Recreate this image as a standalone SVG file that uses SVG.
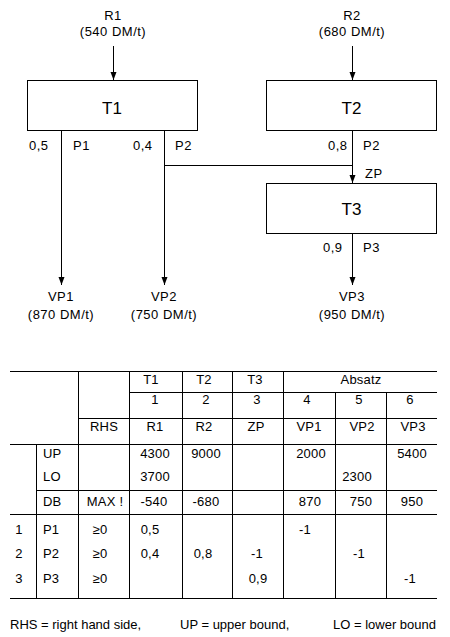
<svg xmlns="http://www.w3.org/2000/svg" width="450" height="637" viewBox="0 0 450 637">
<style>
text{font-family:"Liberation Sans",Arial,sans-serif;fill:#000}
.l{font-size:13px;letter-spacing:0.5px}
.c{text-anchor:middle}
.e{text-anchor:end}
.big{font-size:17px;text-anchor:middle}
.t{font-size:13px;letter-spacing:0.2px}
.g{font-size:13px}
.box{fill:#fff;stroke:#000;stroke-width:1}
.ln{fill:none;stroke:#000;stroke-width:1}
</style>
<defs>
<marker id="ah" markerUnits="userSpaceOnUse" markerWidth="8" markerHeight="7" refX="8" refY="3.5" orient="auto">
<path d="M0,0.5 L8,3.5 L0,6.5 z" fill="#000"/>
</marker>
</defs>

<g id="connectors" class="ln">
<line x1="113.5" y1="46" x2="113.5" y2="80" marker-end="url(#ah)"/>
<line x1="352.5" y1="46" x2="352.5" y2="80" marker-end="url(#ah)"/>
<line x1="61.5" y1="131" x2="61.5" y2="285" marker-end="url(#ah)"/>
<line x1="164.5" y1="131" x2="164.5" y2="285" marker-end="url(#ah)"/>
<line x1="164.5" y1="165.5" x2="352.5" y2="165.5"/>
<line x1="352.5" y1="131" x2="352.5" y2="183" marker-end="url(#ah)"/>
<line x1="352.5" y1="234" x2="352.5" y2="285" marker-end="url(#ah)"/>
</g>

<g id="R1">
<text class="l c" x="113" y="19.5">R1</text>
<text class="l c" x="113" y="36">(540 DM/t)</text>
</g>
<g id="R2">
<text class="l c" x="352" y="19.5">R2</text>
<text class="l c" x="352" y="36">(680 DM/t)</text>
</g>
<g id="T1">
<rect class="box" x="27.5" y="80.5" width="170" height="50"/>
<text class="big" x="112" y="114">T1</text>
</g>
<g id="T2">
<rect class="box" x="266.5" y="80.5" width="170" height="50"/>
<text class="big" x="351.5" y="114">T2</text>
</g>
<g id="T3">
<rect class="box" x="266.5" y="183.5" width="170" height="50"/>
<text class="big" x="351.5" y="215">T3</text>
</g>
<g id="flow-labels">
<text class="l" x="29" y="150">0,5</text>
<text class="l" x="73" y="150">P1</text>
<text class="l" x="133" y="150">0,4</text>
<text class="l" x="175" y="150">P2</text>
<text class="l" x="328" y="150">0,8</text>
<text class="l" x="363" y="150">P2</text>
<text class="l" x="365" y="178">ZP</text>
<text class="l" x="323" y="252">0,9</text>
<text class="l" x="363" y="252">P3</text>
</g>
<g id="VP1">
<text class="l c" x="61" y="301">VP1</text>
<text class="l c" x="61" y="319">(870 DM/t)</text>
</g>
<g id="VP2">
<text class="l c" x="164" y="301">VP2</text>
<text class="l c" x="164" y="319">(750 DM/t)</text>
</g>
<g id="VP3">
<text class="l c" x="352" y="301">VP3</text>
<text class="l c" x="352" y="319">(950 DM/t)</text>
</g>

<g id="table">
<g class="ln">
<line x1="10" y1="371.5" x2="437" y2="371.5"/>
<line x1="129" y1="392.5" x2="437" y2="392.5"/>
<line x1="78" y1="418.5" x2="437" y2="418.5"/>
<line x1="10" y1="444.5" x2="437" y2="444.5"/>
<line x1="36" y1="490.5" x2="437" y2="490.5"/>
<line x1="10" y1="514.5" x2="437" y2="514.5"/>
<line x1="10" y1="598.5" x2="437" y2="598.5"/>
<line x1="36.5" y1="444" x2="36.5" y2="598"/>
<line x1="78.5" y1="371" x2="78.5" y2="598"/>
<line x1="129.5" y1="371" x2="129.5" y2="598"/>
<line x1="182.5" y1="371" x2="182.5" y2="598"/>
<line x1="232.5" y1="371" x2="232.5" y2="598"/>
<line x1="283.5" y1="371" x2="283.5" y2="598"/>
<line x1="335.5" y1="392" x2="335.5" y2="598"/>
<line x1="386.5" y1="392" x2="386.5" y2="598"/>
</g>
<g class="t c">
<text x="151" y="383.5">T1</text>
<text x="204" y="383.5">T2</text>
<text x="255" y="383.5">T3</text>
<text x="361" y="383.5">Absatz</text>
<text x="155" y="403.5">1</text>
<text x="206" y="403.5">2</text>
<text x="257" y="403.5">3</text>
<text x="307" y="403.5">4</text>
<text x="359" y="403.5">5</text>
<text x="410" y="403.5">6</text>
<text x="104" y="431">RHS</text>
<text x="155" y="431">R1</text>
<text x="204" y="431">R2</text>
<text x="256" y="431">ZP</text>
<text x="309" y="431">VP1</text>
<text x="362" y="431">VP2</text>
<text x="413" y="431">VP3</text>
<text x="155" y="457.5">4300</text>
<text x="206" y="457.5">9000</text>
<text x="311" y="457.5">2000</text>
<text x="412" y="457.5">5400</text>
<text x="155" y="481">3700</text>
<text x="357" y="481">2300</text>
<text x="105" y="506">MAX !</text>
<text x="154" y="506">-540</text>
<text x="206" y="506">-680</text>
<text x="310" y="506">870</text>
<text x="361" y="506">750</text>
<text x="412" y="506">950</text>
<text x="19" y="533.5">1</text>
<text x="100" y="533.5">≥0</text>
<text x="150" y="533.5">0,5</text>
<text x="305" y="533.5">-1</text>
<text x="19" y="557.5">2</text>
<text x="100" y="557.5">≥0</text>
<text x="150" y="557.5">0,4</text>
<text x="203" y="557.5">0,8</text>
<text x="257" y="557.5">-1</text>
<text x="359" y="557.5">-1</text>
<text x="19" y="582.5">3</text>
<text x="100" y="582.5">≥0</text>
<text x="258" y="582.5">0,9</text>
<text x="410" y="582.5">-1</text>
</g>
<g class="t">
<text x="43" y="457.5">UP</text>
<text x="43" y="481">LO</text>
<text x="43" y="506">DB</text>
<text x="43" y="533.5">P1</text>
<text x="43" y="557.5">P2</text>
<text x="43" y="582.5">P3</text>
</g>
</g>

<g id="legend" class="g">
<text x="10" y="628.5">RHS = right hand side,</text>
<text x="180" y="628.5">UP = upper bound,</text>
<text class="e" x="436" y="628.5">LO = lower bound</text>
</g>
</svg>
